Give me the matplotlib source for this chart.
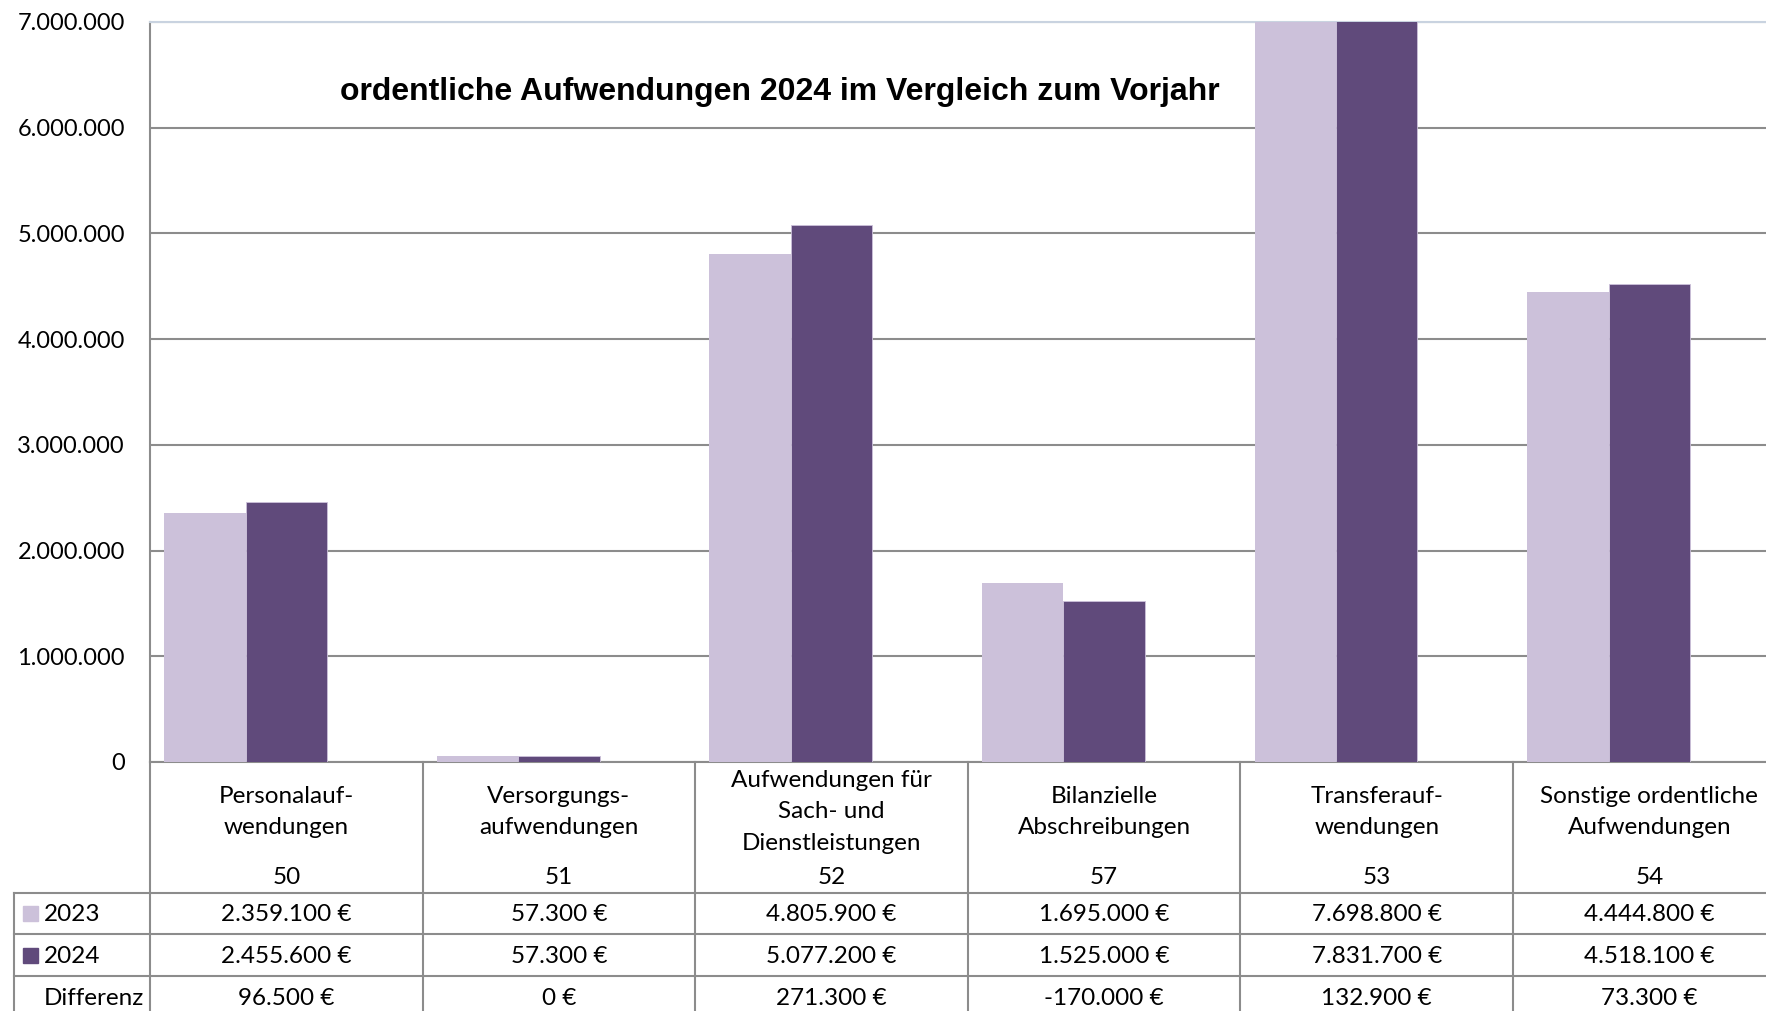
import matplotlib.pyplot as plt
from matplotlib.patches import Rectangle

# Daten
kategorien = ["Personalauf-\nwendungen", "Versorgungs-\naufwendungen",
              "Aufwendungen für\nSach- und\nDienstleistungen",
              "Bilanzielle\nAbschreibungen", "Transferauf-\nwendungen",
              "Sonstige ordentliche\nAufwendungen"]
konten = ["50", "51", "52", "57", "53", "54"]
werte_2023 = [2359100, 57300, 4805900, 1695000, 7698800, 4444800]
werte_2024 = [2455600, 57300, 5077200, 1525000, 7831700, 4518100]
differenz = [b - a for a, b in zip(werte_2023, werte_2024)]
y_ticks = [0, 1000000, 2000000, 3000000, 4000000, 5000000, 6000000, 7000000]

c23 = "#CCC1DA"
c24 = "#604A7B"
grau = "#8C8C8C"
tab_font = "Lato"


def euro(v):
    return f"{v:,.0f}".replace(",", ".") + " €"


W, H = 1766, 1011
fig = plt.figure(figsize=(W / 100, H / 100), dpi=100)

x0 = 150
cw = 272.6
y0 = 762
ytop = 22

ax = fig.add_axes([x0 / W, (H - y0) / H, 6 * cw / W, (y0 - ytop) / H])
ax.set_xlim(0, 6)
ax.set_ylim(0, 7000000)

for i in range(6):
    ax.bar(i + 0.052, werte_2023[i], width=0.2985, align="edge", color=c23, zorder=3)
    ax.bar(i + 0.3505, werte_2024[i], width=0.2985, align="edge", color=c24,
           edgecolor=c23, linewidth=0.6, zorder=3)

ax.set_yticks(y_ticks)
ax.set_yticklabels([f"{v:,.0f}".replace(",", ".") for v in y_ticks],
                   fontsize=17, family=tab_font)
ax.tick_params(axis="y", length=0, pad=18)
ax.set_xticks([])
ax.grid(axis="y", color=grau, lw=1.5, zorder=1)
ax.spines["right"].set_visible(False)
ax.spines["top"].set_color("#C9D3E0")
ax.spines["top"].set_linewidth(1.5)
ax.spines["left"].set_color(grau)
ax.spines["left"].set_linewidth(1.5)
ax.spines["bottom"].set_color(grau)
ax.spines["bottom"].set_linewidth(1.5)

fig.text(780 / W, 1 - 92 / H, "ordentliche Aufwendungen 2024 im Vergleich zum Vorjahr",
         ha="center", va="center", fontsize=23, fontweight="bold",
         family="Liberation Sans")

# Datentabelle
tx = fig.add_axes([x0 / W, 0, 6 * cw / W, (H - y0) / H])
tx.set_xlim(0, 6)
tx.set_ylim(H, y0)
tx.axis("off")

lk = dict(color=grau, lw=1.5, clip_on=False)
for i in range(7):
    tx.plot([i, i], [y0, H + 5], **lk)
tx.plot([-0.5, -0.5], [893, H + 5], **lk)
for yy in [893, 934, 976]:
    tx.plot([-0.5, 6], [yy, yy], **lk)

fs = 17.5
for i in range(6):
    tx.text(i + 0.5, 812, kategorien[i], ha="center", va="center", fontsize=fs,
            family=tab_font, linespacing=1.6, clip_on=False)
    tx.text(i + 0.5, 878, konten[i], ha="center", va="center", fontsize=fs,
            family=tab_font)
    tx.text(i + 0.5, 915, euro(werte_2023[i]), ha="center", va="center",
            fontsize=fs, family=tab_font)
    tx.text(i + 0.5, 957, euro(werte_2024[i]), ha="center", va="center",
            fontsize=fs, family=tab_font)
    tx.text(i + 0.5, 999, euro(differenz[i]), ha="center", va="center",
            fontsize=fs, family=tab_font)

# Legendenschlüssel
for yy, col, lab in [(914, c23, "2023"), (956, c24, "2024")]:
    tx.add_patch(Rectangle((-0.5 + 9 / cw, yy - 7.5), 15 / cw, 15, color=col,
                           clip_on=False))
    tx.text(-0.5 + 30 / cw, yy + 1, lab, ha="left", va="center", fontsize=fs,
            family=tab_font, clip_on=False)
tx.text(-0.5 + 30 / cw, 999, "Differenz", ha="left", va="center", fontsize=fs,
        family=tab_font, clip_on=False)

fig.savefig("out.png", dpi=100)
